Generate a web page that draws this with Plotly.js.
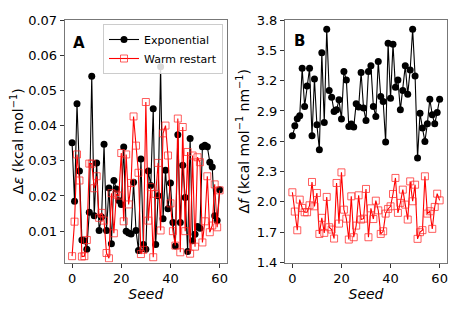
<!DOCTYPE html>
<html>
<head>
<meta charset="utf-8">
<script src="https://cdn.plot.ly/plotly-3.0.1.min.js"></script>
<style>html,body{margin:0;padding:0;background:#fff;}#chart{width:463px;height:309px;}</style>
</head>
<body>
<div id="chart"></div>
<script>
const seeds = Array.from({length: 61}, (_, i) => i);

const epsExponential = [
  0.0351, 0.0185, 0.0462, 0.0271, 0.0075, 0.0073, 0.0049, 0.0154, 0.0540, 0.0144,
  0.0294, 0.0102, 0.0140, 0.0347, 0.0102, 0.0223, 0.0064, 0.0244, 0.0220, 0.0187,
  0.0176, 0.0339, 0.0100, 0.0095, 0.0092, 0.0239, 0.0102, 0.0045, 0.0305, 0.0062,
  0.0049, 0.0271, 0.0230, 0.0448, 0.0062, 0.0201, 0.0567, 0.0135, 0.0273, 0.0164,
  0.0237, 0.0125, 0.0058, 0.0374, 0.0125, 0.0287, 0.0196, 0.0042, 0.0363, 0.0073,
  0.0091, 0.0113, 0.0108, 0.0340, 0.0344, 0.0340, 0.0296, 0.0282, 0.0144, 0.0130,
  0.0218
];
const epsWarm = [
  0.0029, 0.0127, 0.0318, 0.0244, 0.0028, 0.0029, 0.0075, 0.0292, 0.0292, 0.0222,
  0.0256, 0.0138, 0.0152, 0.0130, 0.0038, 0.0023, 0.0208, 0.0094, 0.0204, 0.0201,
  0.0322, 0.0128, 0.0318, 0.0176, 0.0237, 0.0426, 0.0343, 0.0266, 0.0035, 0.0047,
  0.0467, 0.0130, 0.0225, 0.0026, 0.0206, 0.0294, 0.0102, 0.0378, 0.0400, 0.0315,
  0.0179, 0.0100, 0.0059, 0.0420, 0.0040, 0.0396, 0.0100, 0.0325, 0.0036, 0.0315,
  0.0056, 0.0310, 0.0296, 0.0068, 0.0128, 0.0256, 0.0097, 0.0116, 0.0233, 0.0111,
  0.0216
];
const fExponential = [
  2.654, 2.753, 2.822, 2.852, 3.323, 2.944, 3.148, 3.323, 2.654, 3.217,
  2.763, 2.516, 3.477, 2.786, 3.708, 3.102, 3.036, 2.895, 2.911, 3.010,
  2.819, 3.290, 3.207, 2.747, 2.770, 2.740, 2.972, 2.940, 3.280, 2.928,
  2.806, 3.290, 3.346, 2.944, 2.845, 3.389, 3.043, 2.993, 2.592, 3.570,
  3.026, 3.560, 3.135, 3.207, 2.911, 3.102, 3.346, 3.066, 3.306, 3.708,
  3.247, 2.434, 2.878, 2.730, 2.598, 2.773, 3.016, 2.862, 2.773, 2.885,
  3.016
];
const fWarm = [
  2.095, 1.904, 1.719, 2.022, 1.940, 1.897, 1.897, 1.966, 2.197, 1.956,
  2.088, 1.683, 1.842, 1.693, 2.049, 1.749, 1.726, 1.637, 2.187, 1.785,
  2.292, 1.923, 1.834, 1.627, 2.055, 1.650, 1.765, 2.065, 1.825, 1.834,
  2.128, 1.650, 1.936, 1.830, 2.012, 1.916, 1.683, 1.709, 1.884, 1.930,
  1.956, 2.078, 2.237, 1.891, 1.990, 2.121, 1.973, 1.825, 2.203, 2.006,
  2.170, 1.634, 1.700, 1.720, 2.253, 1.884, 1.907, 1.733, 1.950, 2.081,
  2.015
];

const seriesNames = ['Exponential', 'Warm restart'];
const xTicks = [0, 20, 40, 60];
const epsTicks = [0.01, 0.02, 0.03, 0.04, 0.05, 0.06, 0.07];
const fTicks = [1.4, 1.7, 2.0, 2.3, 2.6, 2.9, 3.2, 3.5, 3.8];

const FONT = 'DejaVu Sans, sans-serif';
const blackStyle = {mode: 'lines+markers', line: {color: 'black', width: 1.1},
  marker: {symbol: 'circle', size: 7, color: 'black'}};
const redStyle = {mode: 'lines+markers', line: {color: 'red', width: 1.1},
  marker: {symbol: 'square-open', size: 7, color: 'rgba(255,40,40,0.75)', line: {width: 1}}};

const traces = [
  Object.assign({x: seeds, y: epsExponential, name: seriesNames[0], xaxis: 'x', yaxis: 'y', showlegend: true}, blackStyle),
  Object.assign({x: seeds, y: epsWarm, name: seriesNames[1], xaxis: 'x', yaxis: 'y', showlegend: true}, redStyle),
  Object.assign({x: seeds, y: fExponential, name: seriesNames[0], xaxis: 'x2', yaxis: 'y2', showlegend: false}, blackStyle),
  Object.assign({x: seeds, y: fWarm, name: seriesNames[1], xaxis: 'x2', yaxis: 'y2', showlegend: false}, redStyle)
];

const W = 463, H = 309;
const axCommon = {showgrid: false, zeroline: false, showline: true, mirror: true,
  linecolor: '#777', linewidth: 1, ticks: 'outside', ticklen: 4, tickwidth: 1, tickcolor: '#333',
  tickfont: {family: FONT, size: 13, color: 'black'}};
const yDom = [1 - 262.5 / H, 1 - 20 / H];

const layout = {
  width: W, height: H,
  margin: {l: 0, r: 0, t: 0, b: 0},
  paper_bgcolor: 'white', plot_bgcolor: 'white',
  font: {family: FONT, size: 13, color: 'black'},
  xaxis: Object.assign({}, axCommon, {domain: [64.7 / W, 227 / W], range: [-3, 63], tickvals: xTicks,
    anchor: 'y', title: {text: '<i>Seed</i>', font: {family: FONT, size: 14}, standoff: 1}}),
  yaxis: Object.assign({}, axCommon, {domain: yDom, range: [0.0011, 0.07], tickvals: epsTicks,
    tickformat: '.2f', anchor: 'x',
    title: {text: 'Δ<i>ε</i> (kcal mol<sup>−1</sup>)', font: {family: FONT, size: 14}, standoff: 1}}),
  xaxis2: Object.assign({}, axCommon, {domain: [285 / W, 447 / W], range: [-3, 63], tickvals: xTicks,
    anchor: 'y2', title: {text: '<i>Seed</i>', font: {family: FONT, size: 14}, standoff: 1}}),
  yaxis2: Object.assign({}, axCommon, {domain: yDom, range: [1.4, 3.8], tickvals: fTicks,
    tickformat: '.1f', anchor: 'x2',
    title: {text: 'Δ<i>f</i> (kcal mol<sup>−1</sup> nm<sup>−1</sup>)', font: {family: FONT, size: 14}, standoff: 3}}),
  legend: {x: 223 / W, xanchor: 'right', y: 1 - 24 / H, yanchor: 'top',
    bgcolor: 'rgba(255,255,255,0.85)', bordercolor: '#ccc', borderwidth: 1,
    font: {family: FONT, size: 11, color: 'black'}, tracegroupgap: 0, itemwidth: 30},
  annotations: [
    {text: '<b>A</b>', xref: 'paper', yref: 'paper', x: 79 / W, y: 1 - 43 / H, xanchor: 'center', yanchor: 'middle',
      showarrow: false, font: {family: FONT, size: 15, color: 'black'}},
    {text: '<b>B</b>', xref: 'paper', yref: 'paper', x: 299 / W, y: 1 - 41 / H, xanchor: 'center', yanchor: 'middle',
      showarrow: false, font: {family: FONT, size: 15, color: 'black'}}
  ]
};

Plotly.newPlot('chart', traces, layout, {staticPlot: true, displayModeBar: false});
</script>
</body>
</html>
